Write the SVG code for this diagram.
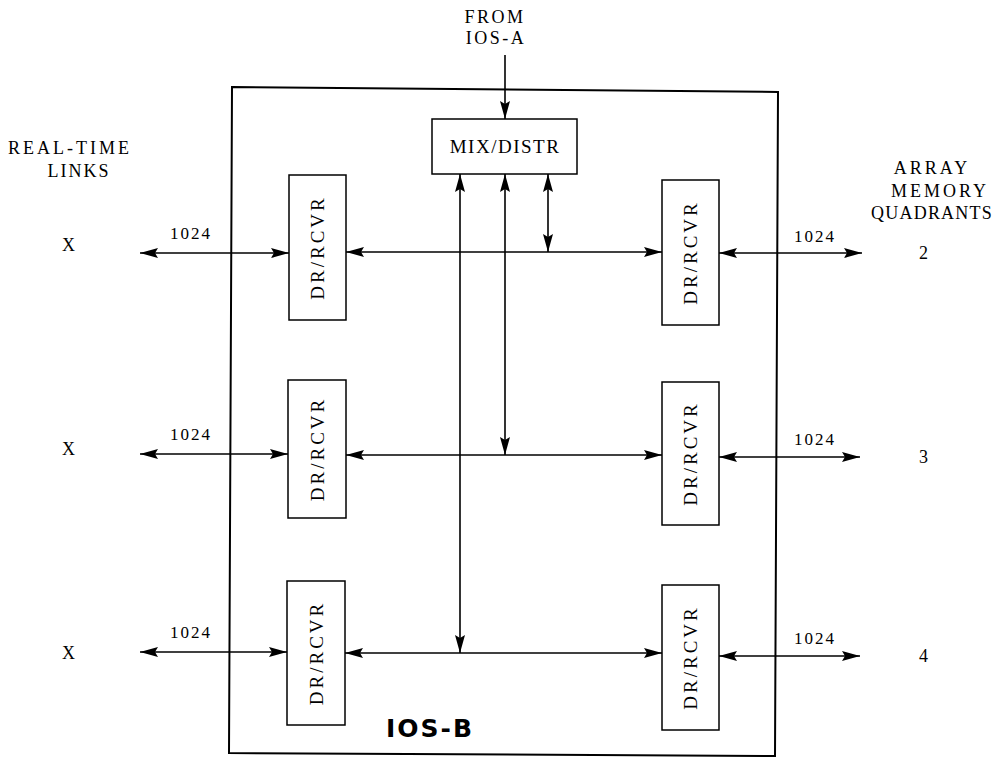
<svg xmlns="http://www.w3.org/2000/svg" width="995" height="760" viewBox="0 0 995 760">
<defs>
<marker id="ah" viewBox="0 0 18 10" markerWidth="18" markerHeight="10" refX="18" refY="5" orient="auto-start-reverse" markerUnits="userSpaceOnUse">
<path d="M0,0 L18,5 L0,10 L3,5 z" fill="#000"/>
</marker>
<style>
text{font-family:"Liberation Serif","DejaVu Serif",serif;fill:#000}
.t{font-size:18px;letter-spacing:3px}
.n{font-size:17px;letter-spacing:2px}
.d{font-size:19px;letter-spacing:3px}
.box{fill:#fff;stroke:#000;stroke-width:1.5}
.c{stroke:#000;stroke-width:1.6;fill:none}
.a2{marker-start:url(#ah);marker-end:url(#ah)}
.ae{marker-end:url(#ah)}
</style>
</defs>
<rect width="995" height="760" fill="#fff"/>
<g id="ios-b">
<path d="M232,87 L778,92 L775,756 L229,753 Z" fill="none" stroke="#000" stroke-width="2"/>
<text x="430" y="737" text-anchor="middle" style="font-family:'DejaVu Sans','Liberation Sans',sans-serif;font-size:25px;font-weight:bold;letter-spacing:2px">IOS-B</text>
</g>
<g id="mix">
<rect class="box" x="432" y="119" width="145" height="55"/>
<text class="d" x="505" y="153" text-anchor="middle" style="letter-spacing:1.5px">MIX/DISTR</text>
</g>
<g id="dr-l1"><rect class="box" x="289" y="175" width="57" height="145"/><text class="d" transform="translate(324,247.5) rotate(-90)" text-anchor="middle">DR/RCVR</text></g>
<g id="dr-l2"><rect class="box" x="288" y="380" width="58" height="138"/><text class="d" transform="translate(324,449) rotate(-90)" text-anchor="middle">DR/RCVR</text></g>
<g id="dr-l3"><rect class="box" x="287" y="581" width="58" height="144"/><text class="d" transform="translate(323,653) rotate(-90)" text-anchor="middle">DR/RCVR</text></g>
<g id="dr-r1"><rect class="box" x="662" y="180" width="57" height="145"/><text class="d" transform="translate(697,252.5) rotate(-90)" text-anchor="middle">DR/RCVR</text></g>
<g id="dr-r2"><rect class="box" x="662" y="382" width="57" height="143"/><text class="d" transform="translate(697,453.5) rotate(-90)" text-anchor="middle">DR/RCVR</text></g>
<g id="dr-r3"><rect class="box" x="662" y="585" width="57" height="145"/><text class="d" transform="translate(697,657.5) rotate(-90)" text-anchor="middle">DR/RCVR</text></g>
<g id="labels">
<text class="t" x="495" y="23" text-anchor="middle" style="letter-spacing:2.5px">FROM</text>
<text class="t" x="496" y="44" text-anchor="middle" style="letter-spacing:2.5px">IOS-A</text>
<text class="t" x="70" y="154" text-anchor="middle">REAL-TIME</text>
<text class="t" x="79" y="177" text-anchor="middle" style="letter-spacing:2px">LINKS</text>
<text class="t" x="932" y="174" text-anchor="middle">ARRAY</text>
<text class="t" x="940" y="197" text-anchor="middle">MEMORY</text>
<text class="t" x="932" y="219" text-anchor="middle" style="letter-spacing:1.2px">QUADRANTS</text>
<text class="t" x="70" y="251" text-anchor="middle">X</text>
<text class="t" x="70" y="455" text-anchor="middle">X</text>
<text class="t" x="70" y="659" text-anchor="middle">X</text>
<text class="t" x="925" y="259" text-anchor="middle">2</text>
<text class="t" x="925" y="463" text-anchor="middle">3</text>
<text class="t" x="925" y="662" text-anchor="middle">4</text>
<text class="n" x="191" y="239" text-anchor="middle">1024</text>
<text class="n" x="191" y="440" text-anchor="middle">1024</text>
<text class="n" x="191" y="638" text-anchor="middle">1024</text>
<text class="n" x="815" y="242" text-anchor="middle">1024</text>
<text class="n" x="815" y="445" text-anchor="middle">1024</text>
<text class="n" x="815" y="644" text-anchor="middle">1024</text>
</g>
<g id="connectors">
<line class="c ae" x1="505" y1="55" x2="505" y2="119"/>
<line class="c a2" x1="140" y1="253" x2="289" y2="253"/>
<line class="c a2" x1="346" y1="252" x2="662" y2="252"/>
<line class="c a2" x1="719" y1="253" x2="862" y2="253"/>
<line class="c a2" x1="140" y1="454" x2="288" y2="454"/>
<line class="c a2" x1="346" y1="455" x2="662" y2="455"/>
<line class="c a2" x1="719" y1="457" x2="860" y2="457"/>
<line class="c a2" x1="140" y1="652" x2="287" y2="652"/>
<line class="c a2" x1="345" y1="653" x2="662" y2="653"/>
<line class="c a2" x1="719" y1="656" x2="860" y2="656"/>
<line class="c a2" x1="460" y1="174" x2="460" y2="653"/>
<line class="c a2" x1="505" y1="174" x2="505" y2="455"/>
<line class="c a2" x1="548" y1="174" x2="548" y2="252"/>
</g>
</svg>
